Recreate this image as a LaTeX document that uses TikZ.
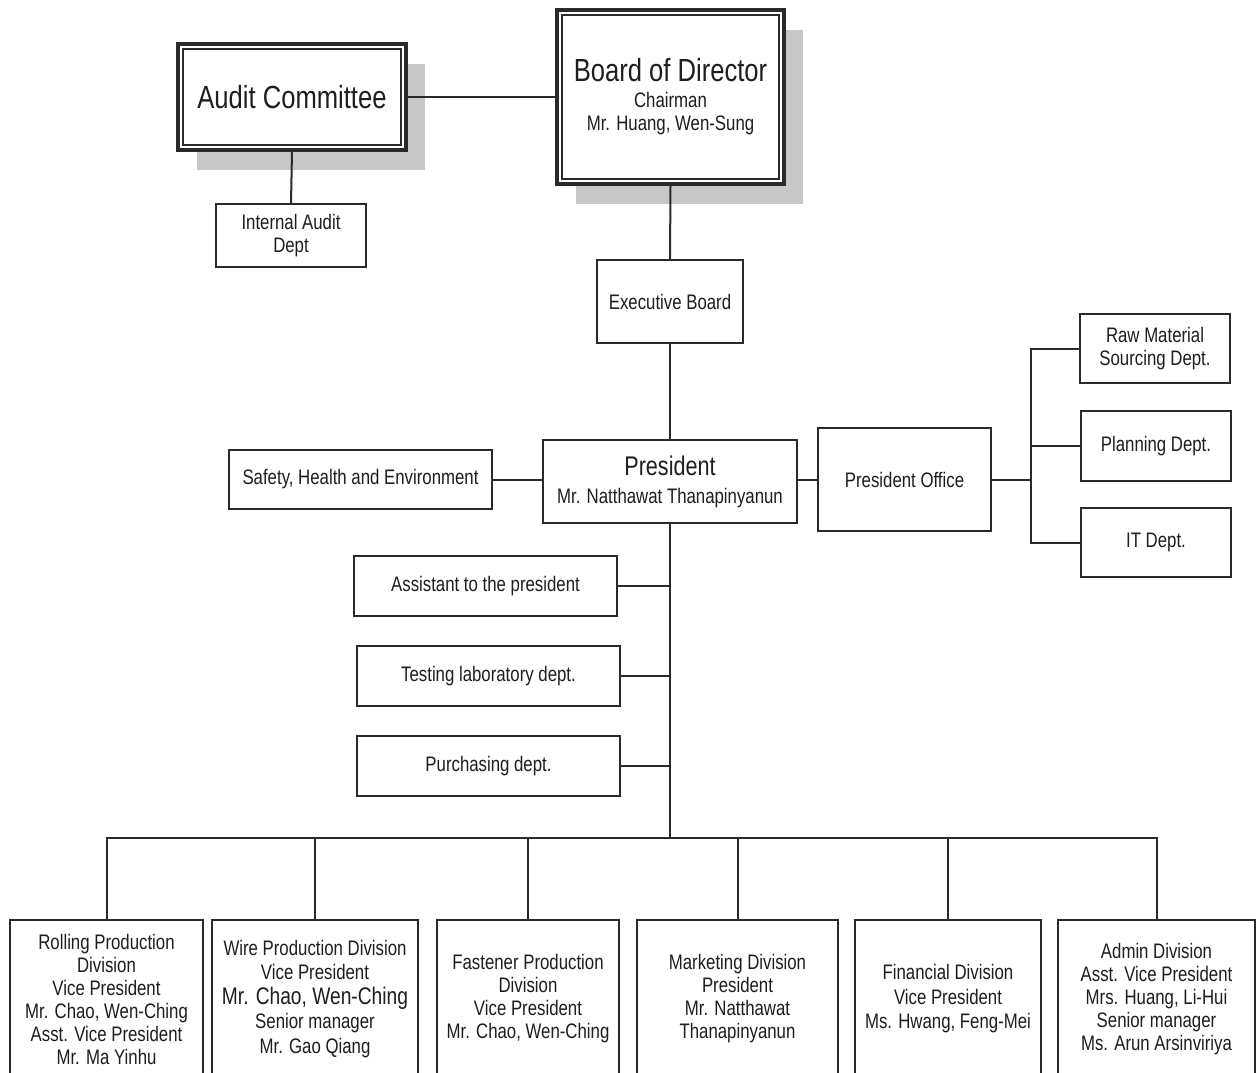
\documentclass[tikz,border=0pt]{standalone}
\usepackage{fontspec}
\setmainfont{Liberation Sans}[FakeStretch=0.8]
\usetikzlibrary{shadows}
\definecolor{ln}{HTML}{2A2A2A}
\definecolor{tx}{HTML}{1E1E1E}
\begin{document}
\begin{tikzpicture}[x=1pt,y=1pt,
  box/.style={draw=ln, line width=2pt, fill=white, text=tx, align=center, inner sep=0pt,
    font=\fontsize{21pt}{23pt}\selectfont},
  bigbox/.style={box, line width=3.5pt,
    drop shadow={shadow xshift=19pt, shadow yshift=-20pt, fill=black!22, opacity=1}},
  divbox/.style={box, minimum height=158},
  conn/.style={draw=ln, line width=2pt},
  inner/.style={draw=ln, line width=1.6pt},
]
\useasboundingbox (0,0) rectangle (1258,-1073);
\fill[white] (0,0) rectangle (1258,-1073);
\clip (0,0) rectangle (1258,-1073);

% top level
\node[bigbox, minimum width=228, minimum height=106] (ac) at (292,-97)
  {\fontsize{32pt}{36pt}\selectfont Audit Committee};
\node[bigbox, minimum width=227, minimum height=174] (bod) at (670.5,-97)
  {{\fontsize{32pt}{36pt}\selectfont Board of Director}\\[3pt]Chairman\\Mr. Huang, Wen-Sung};
\draw[inner] ([shift={(6.5pt,-6.5pt)}]ac.north west) rectangle ([shift={(-6.5pt,6.5pt)}]ac.south east);
\draw[inner] ([shift={(6.5pt,-6.5pt)}]bod.north west) rectangle ([shift={(-6.5pt,6.5pt)}]bod.south east);

\node[box, minimum width=150, minimum height=63] (iad) at (291,-235.5) {Internal Audit\\Dept};
\node[box, minimum width=146, minimum height=83] (eb) at (670,-301.5) {Executive Board};
\node[box, minimum width=254, minimum height=83] (pres) at (670,-481.5)
  {{\fontsize{27pt}{30pt}\selectfont President}\\[5pt]Mr. Natthawat Thanapinyanun};
\node[box, minimum width=263, minimum height=59] (she) at (360.5,-479.5) {Safety, Health and Environment};
\node[box, minimum width=173, minimum height=103] (po) at (904.5,-479.5) {President Office};
\node[box, minimum width=150, minimum height=69] (raw) at (1155,-348.5) {Raw Material\\Sourcing Dept.};
\node[box, minimum width=150, minimum height=70] (plan) at (1156,-446) {Planning Dept.};
\node[box, minimum width=150, minimum height=69] (it) at (1156,-542.5) {IT Dept.};

\node[box, minimum width=263, minimum height=60] (asst) at (485.5,-586) {Assistant to the president};
\node[box, minimum width=263, minimum height=60] (test) at (488.5,-676) {Testing laboratory dept.};
\node[box, minimum width=263, minimum height=60] (purch) at (488.5,-766) {Purchasing dept.};

% divisions
\node[divbox, minimum width=193] (d1) at (106.5,-999)
  {Rolling Production\\Division\\Vice President\\Mr. Chao, Wen-Ching\\Asst. Vice President\\Mr. Ma Yinhu};
\node[divbox, minimum width=206, font=\fontsize{21pt}{24.5pt}\selectfont] (d2) at (315,-999)
  {Wire Production Division\\Vice President\\{\fontsize{24pt}{24.5pt}\selectfont Mr. Chao, Wen-Ching}\\Senior manager\\Mr. Gao Qiang};
\node[divbox, minimum width=182] (d3) at (528,-999)
  {Fastener Production\\Division\\Vice President\\Mr. Chao, Wen-Ching};
\node[divbox, minimum width=201] (d4) at (737.5,-999)
  {Marketing Division\\President\\Mr. Natthawat\\Thanapinyanun};
\node[divbox, minimum width=186, font=\fontsize{21pt}{24.5pt}\selectfont] (d5) at (948,-999)
  {Financial Division\\Vice President\\Ms. Hwang, Feng-Mei};
\node[divbox, minimum width=197] (d6) at (1156.5,-999)
  {Admin Division\\Asst. Vice President\\Mrs. Huang, Li-Hui\\Senior manager\\Ms. Arun Arsinviriya};

% coordinates for buses
\coordinate (rb) at (1031,-479.5);
\coordinate (bus) at (670,-838);

% connectors
\draw[conn] (ac.east) -- (bod.west);
\draw[conn] (ac.south) -- (iad.north);
\draw[conn] (bod.south) -- (eb.north);
\draw[conn] (eb.south) -- (pres.north);
\draw[conn] (she.east) -- (she.east -| pres.west);
\draw[conn] (po.west -| pres.east) -- (po.west);
\draw[conn] (po.east) -- (rb);
\draw[conn] (raw.west) -| (rb);
\draw[conn] (it.west) -| (rb);
\draw[conn] (plan.west) -- (plan.west -| rb);
\draw[conn] (pres.south) -- (bus);
\draw[conn] (asst.east) -- (asst.east -| bus);
\draw[conn] (test.east) -- (test.east -| bus);
\draw[conn] (purch.east) -- (purch.east -| bus);
\foreach \d in {d1,d2,d3,d4,d5,d6}
  \draw[conn] (\d.north) |- (bus);
\end{tikzpicture}
\end{document}
